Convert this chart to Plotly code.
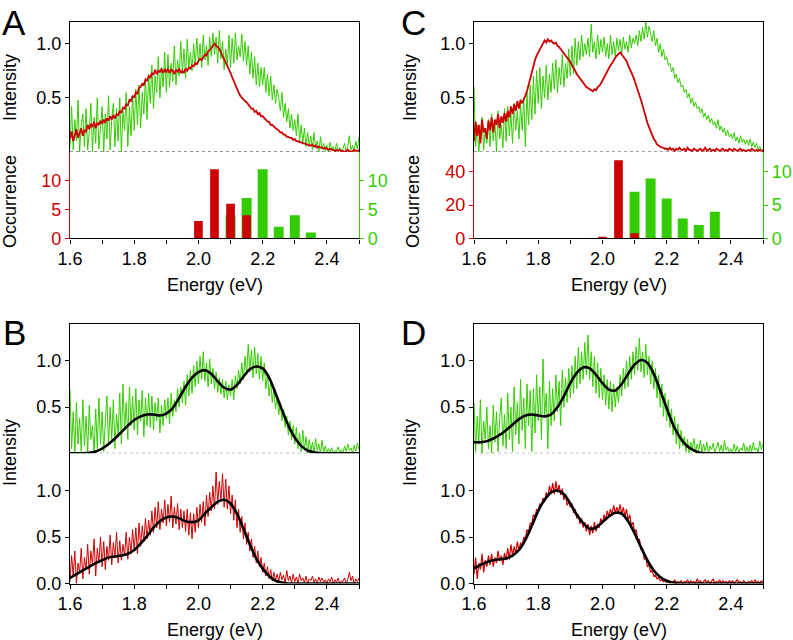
import numpy as np
import plotly.graph_objects as go

# ---------------- data ----------------
# spectra sampled every 0.005 eV from 1.6 to 2.5 eV (181 samples)
energy = np.round(np.linspace(1.6, 2.5, 181), 3)
# fitted curves sampled every 0.02 eV
fit_energy = np.round(np.linspace(1.6, 2.5, 46), 2)

a_red = [
    0.12, 0.19, 0.10, 0.17, 0.21, 0.13, 0.18, 0.22, 0.15, 0.20,
    0.19, 0.25, 0.21, 0.26, 0.23, 0.28, 0.22, 0.27, 0.25, 0.29,
    0.26, 0.30, 0.27, 0.31, 0.29, 0.33, 0.30, 0.34, 0.31, 0.35,
    0.34, 0.38, 0.36, 0.41, 0.40, 0.44, 0.43, 0.48, 0.47, 0.52,
    0.50, 0.55, 0.54, 0.59, 0.60, 0.63, 0.62, 0.67, 0.66, 0.70,
    0.69, 0.73, 0.71, 0.76, 0.72, 0.75, 0.74, 0.77, 0.73, 0.76,
    0.74, 0.77, 0.73, 0.76, 0.75, 0.72, 0.76, 0.74, 0.77, 0.73,
    0.75, 0.73, 0.77, 0.75, 0.78, 0.77, 0.80, 0.79, 0.82, 0.81,
    0.84, 0.86, 0.85, 0.88, 0.90, 0.89, 0.93, 0.94, 0.96, 0.97,
    1.00, 0.98, 0.97, 0.95, 0.92, 0.89, 0.86, 0.83, 0.80, 0.76,
    0.73, 0.69, 0.65, 0.61, 0.57, 0.55, 0.52, 0.50, 0.48, 0.47,
    0.46, 0.44, 0.43, 0.40, 0.40, 0.37, 0.38, 0.35, 0.36, 0.33,
    0.33, 0.31, 0.30, 0.28, 0.28, 0.25, 0.25, 0.23, 0.22, 0.21,
    0.20, 0.18, 0.18, 0.16, 0.16, 0.14, 0.14, 0.13, 0.13, 0.11,
    0.12, 0.10, 0.10, 0.09, 0.09, 0.08, 0.08, 0.07, 0.07, 0.06,
    0.06, 0.07, 0.05, 0.06, 0.04, 0.05, 0.04, 0.04, 0.03, 0.04,
    0.03, 0.02, 0.03, 0.02, 0.02, 0.01, 0.02, 0.01, 0.02, 0.01,
    0.01, 0.00, 0.01, 0.02, 0.01, 0.00, 0.01, 0.02, 0.01, 0.01,
    0.02,
]

a_green = [
    0.05, 0.42, 0.02, 0.30, 0.10, 0.48, 0.00, 0.25, 0.35, 0.05,
    0.40, 0.02, 0.18, 0.45, 0.00, 0.32, 0.08, 0.50, 0.03, 0.28,
    0.42, 0.00, 0.35, 0.12, 0.52, 0.02, 0.30, 0.45, 0.05, 0.40,
    0.10, 0.50, 0.00, 0.38, 0.20, 0.55, 0.05, 0.42, 0.15, 0.52,
    0.20, 0.58, 0.25, 0.62, 0.22, 0.55, 0.35, 0.68, 0.30, 0.72,
    0.45, 0.80, 0.40, 0.70, 0.55, 0.88, 0.50, 0.78, 0.60, 0.92,
    0.55, 0.90, 0.60, 0.82, 0.65, 0.98, 0.62, 0.85, 0.70, 1.02,
    0.72, 0.95, 0.68, 1.04, 0.78, 0.92, 0.75, 1.00, 0.80, 1.05,
    0.82, 1.00, 0.78, 1.08, 0.85, 0.98, 0.80, 1.06, 0.88, 1.10,
    0.90, 1.06, 0.82, 1.12, 0.86, 1.02, 0.76, 0.95, 0.80, 1.08,
    0.78, 1.05, 0.82, 1.10, 0.85, 0.98, 0.88, 1.09, 0.84, 1.02,
    0.80, 0.98, 0.72, 0.92, 0.68, 0.88, 0.62, 0.82, 0.60, 0.78,
    0.62, 0.78, 0.55, 0.72, 0.52, 0.70, 0.48, 0.62, 0.45, 0.58,
    0.50, 0.38, 0.55, 0.32, 0.45, 0.28, 0.40, 0.22, 0.35, 0.20,
    0.30, 0.15, 0.35, 0.10, 0.25, 0.08, 0.22, 0.05, 0.18, 0.06,
    0.15, 0.02, 0.18, 0.04, 0.10, 0.00, 0.14, 0.03, 0.08, 0.01,
    0.06, 0.00, 0.09, 0.02, 0.05, 0.00, 0.08, 0.01, 0.04, 0.00,
    0.03, 0.08, 0.00, 0.05, 0.15, 0.02, 0.06, 0.00, 0.10, 0.03,
    0.14,
]

c_red = [
    0.10, 0.28, 0.15, 0.25, 0.08, 0.30, 0.18, 0.22, 0.12, 0.29,
    0.20, 0.32, 0.18, 0.30, 0.25, 0.35, 0.22, 0.33, 0.27, 0.36,
    0.28, 0.38, 0.32, 0.42, 0.35, 0.44, 0.38, 0.47, 0.40, 0.48,
    0.45, 0.48, 0.52, 0.56, 0.62, 0.68, 0.74, 0.80, 0.85, 0.89,
    0.92, 0.95, 0.98, 1.00, 1.03, 1.01, 1.04, 1.02, 1.03, 1.01,
    1.00, 1.01, 0.98, 0.97, 0.95, 0.94, 0.91, 0.89, 0.87, 0.85,
    0.83, 0.80, 0.78, 0.75, 0.72, 0.70, 0.67, 0.65, 0.63, 0.61,
    0.60, 0.59, 0.58, 0.57, 0.56, 0.58, 0.57, 0.60, 0.61, 0.63,
    0.66, 0.69, 0.71, 0.74, 0.77, 0.80, 0.82, 0.85, 0.87, 0.89,
    0.91, 0.92, 0.90, 0.88, 0.86, 0.84, 0.80, 0.77, 0.73, 0.70,
    0.66, 0.62, 0.58, 0.53, 0.48, 0.43, 0.37, 0.32, 0.27, 0.23,
    0.19, 0.15, 0.12, 0.10, 0.07, 0.06, 0.05, 0.04, 0.04, 0.03,
    0.03, 0.02, 0.04, 0.02, 0.03, 0.01, 0.03, 0.02, 0.04, 0.02,
    0.02, 0.03, 0.01, 0.04, 0.02, 0.02, 0.01, 0.03, 0.02, 0.01,
    0.02, 0.03, 0.01, 0.02, 0.04, 0.01, 0.02, 0.03, 0.01, 0.02,
    0.01, 0.03, 0.02, 0.01, 0.02, 0.03, 0.01, 0.02, 0.01, 0.03,
    0.02, 0.01, 0.03, 0.02, 0.01, 0.02, 0.03, 0.01, 0.02, 0.01,
    0.01, 0.02, 0.01, 0.03, 0.02, 0.01, 0.02, 0.01, 0.02, 0.01,
    0.01,
]

c_green = [
    0.60, 0.05, 0.25, 0.00, 0.18, 0.32, 0.02, 0.22, 0.08, 0.30,
    0.05, 0.35, 0.10, 0.28, 0.00, 0.38, 0.12, 0.25, 0.04, 0.40,
    0.10, 0.42, 0.15, 0.35, 0.08, 0.45, 0.20, 0.38, 0.12, 0.44,
    0.20, 0.50, 0.05, 0.55, 0.25, 0.62, 0.30, 0.70, 0.35, 0.75,
    0.45, 0.78, 0.40, 0.70, 0.50, 0.80, 0.48, 0.72, 0.55, 0.82,
    0.58, 0.85, 0.55, 0.78, 0.62, 0.90, 0.60, 0.82, 0.68, 0.95,
    0.70, 0.98, 0.72, 1.05, 0.80, 1.02, 0.85, 1.08, 0.88, 1.00,
    0.90, 1.05, 0.88, 1.18, 0.92, 1.02, 0.86, 1.08, 0.90, 1.04,
    0.92, 1.06, 0.88, 1.00, 0.86, 1.08, 0.90, 1.02, 0.88, 1.05,
    0.94, 1.04, 0.90, 1.06, 0.95, 1.02, 0.92, 1.08, 0.96, 1.05,
    1.00, 1.08, 0.98, 1.12, 1.02, 1.15, 1.04, 1.20, 1.06, 1.16,
    1.10, 1.02, 1.12, 0.98, 1.05, 0.92, 1.00, 0.88, 0.95, 0.85,
    0.88, 0.80, 0.82, 0.74, 0.78, 0.68, 0.72, 0.64, 0.68, 0.60,
    0.62, 0.55, 0.58, 0.50, 0.54, 0.45, 0.50, 0.42, 0.46, 0.40,
    0.42, 0.36, 0.40, 0.32, 0.36, 0.30, 0.34, 0.27, 0.31, 0.25,
    0.28, 0.22, 0.30, 0.20, 0.24, 0.18, 0.22, 0.15, 0.20, 0.14,
    0.17, 0.12, 0.18, 0.10, 0.14, 0.08, 0.15, 0.09, 0.12, 0.07,
    0.11, 0.06, 0.12, 0.05, 0.09, 0.04, 0.08, 0.02, 0.05, 0.01,
    0.03,
]

b_green = [
    0.69, 0.05, 0.45, 0.00, 0.55, 0.10, 0.38, 0.02, 0.58, 0.08,
    0.40, 0.00, 0.52, 0.15, 0.30, 0.00, 0.48, 0.05, 0.60, 0.10,
    0.45, 0.02, 0.35, 0.62, 0.08, 0.50, 0.15, 0.58, 0.05, 0.42,
    0.20, 0.65, 0.10, 0.75, 0.25, 0.55, 0.15, 0.72, 0.30, 0.62,
    0.25, 0.70, 0.20, 0.58, 0.35, 0.68, 0.18, 0.60, 0.30, 0.65,
    0.28, 0.62, 0.25, 0.55, 0.35, 0.60, 0.22, 0.52, 0.30, 0.58,
    0.38, 0.60, 0.32, 0.65, 0.40, 0.58, 0.45, 0.70, 0.50, 0.72,
    0.55, 0.78, 0.52, 0.85, 0.62, 0.90, 0.65, 0.95, 0.72, 1.00,
    0.75, 1.05, 0.80, 1.10, 0.78, 0.98, 0.72, 1.02, 0.75, 0.92,
    0.70, 0.88, 0.66, 0.82, 0.64, 0.80, 0.60, 0.78, 0.58, 0.74,
    0.62, 0.80, 0.58, 0.84, 0.70, 0.90, 0.75, 0.98, 0.80, 1.05,
    0.85, 1.18, 0.88, 1.12, 0.82, 1.15, 0.86, 1.08, 0.80, 1.05,
    0.78, 0.98, 0.70, 0.85, 0.62, 0.78, 0.55, 0.70, 0.48, 0.62,
    0.42, 0.55, 0.35, 0.48, 0.28, 0.40, 0.20, 0.35, 0.15, 0.30,
    0.10, 0.28, 0.05, 0.22, 0.02, 0.25, 0.04, 0.18, 0.00, 0.15,
    0.02, 0.12, 0.00, 0.16, 0.03, 0.10, 0.00, 0.14, 0.01, 0.08,
    0.00, 0.05, 0.01, 0.06, 0.00, 0.03, 0.02, 0.07, 0.00, 0.04,
    0.00, 0.08, 0.02, 0.10, 0.03, 0.06, 0.00, 0.09, 0.02, 0.11,
    0.04,
]

b_red = [
    0.02, 0.30, 0.08, 0.35, 0.00, 0.22, 0.12, 0.38, 0.05, 0.28,
    0.15, 0.42, 0.10, 0.35, 0.20, 0.48, 0.08, 0.38, 0.22, 0.50,
    0.18, 0.45, 0.15, 0.40, 0.25, 0.52, 0.20, 0.44, 0.28, 0.55,
    0.22, 0.46, 0.25, 0.42, 0.30, 0.55, 0.26, 0.50, 0.32, 0.58,
    0.35, 0.60, 0.32, 0.65, 0.40, 0.62, 0.45, 0.70, 0.48, 0.68,
    0.52, 0.78, 0.55, 0.82, 0.60, 0.88, 0.58, 0.80, 0.65, 0.90,
    0.62, 0.85, 0.66, 0.94, 0.60, 0.82, 0.64, 0.86, 0.58, 0.80,
    0.60, 0.78, 0.56, 0.80, 0.52, 0.76, 0.48, 0.75, 0.55, 0.82,
    0.60, 0.85, 0.66, 0.88, 0.62, 0.95, 0.72, 0.98, 0.78, 1.05,
    0.80, 1.20, 0.85, 1.10, 0.88, 1.18, 0.82, 1.12, 0.80, 1.05,
    0.75, 0.95, 0.68, 0.90, 0.60, 0.80, 0.55, 0.72, 0.48, 0.65,
    0.42, 0.55, 0.35, 0.48, 0.28, 0.40, 0.22, 0.35, 0.18, 0.28,
    0.12, 0.22, 0.08, 0.18, 0.05, 0.15, 0.03, 0.12, 0.04, 0.10,
    0.02, 0.12, 0.04, 0.09, 0.00, 0.14, 0.03, 0.08, 0.01, 0.10,
    0.02, 0.07, 0.00, 0.10, 0.03, 0.06, 0.01, 0.08, 0.00, 0.05,
    0.03, 0.08, 0.01, 0.05, 0.00, 0.07, 0.02, 0.06, 0.01, 0.04,
    0.00, 0.05, 0.02, 0.07, 0.00, 0.04, 0.01, 0.06, 0.00, 0.03,
    0.02, 0.06, 0.00, 0.04, 0.12, 0.03, 0.08, 0.00, 0.05, 0.02,
    0.06,
]

d_green = [
    0.55, 0.02, 0.40, 0.10, 0.58, 0.00, 0.35, 0.15, 0.50, 0.05,
    0.30, 0.00, 0.52, 0.12, 0.45, 0.02, 0.38, 0.60, 0.08, 0.42,
    0.05, 0.65, 0.15, 0.50, 0.02, 0.72, 0.20, 0.55, 0.10, 0.80,
    0.25, 0.60, 0.05, 0.75, 0.30, 0.68, 0.02, 0.70, 0.22, 0.85,
    0.35, 0.72, 0.15, 1.02, 0.40, 0.65, 0.05, 0.78, 0.30, 0.70,
    0.35, 0.85, 0.45, 0.78, 0.30, 0.90, 0.50, 0.82, 0.55, 0.92,
    0.60, 0.95, 0.65, 1.05, 0.70, 1.15, 0.75, 1.10, 0.80, 1.20,
    0.85, 1.28, 0.80, 1.10, 0.72, 1.05, 0.65, 0.98, 0.60, 0.92,
    0.58, 0.85, 0.52, 0.80, 0.48, 0.78, 0.45, 0.75, 0.50, 0.72,
    0.55, 0.85, 0.62, 0.92, 0.70, 1.00, 0.72, 1.05, 0.80, 1.10,
    0.85, 1.15, 0.90, 1.25, 0.88, 1.10, 0.82, 1.18, 0.85, 1.05,
    0.75, 1.00, 0.70, 0.92, 0.60, 0.85, 0.50, 0.75, 0.40, 0.65,
    0.35, 0.58, 0.28, 0.48, 0.20, 0.40, 0.10, 0.32, 0.05, 0.25,
    0.08, 0.18, 0.02, 0.15, 0.00, 0.12, 0.05, 0.16, 0.01, 0.10,
    0.03, 0.14, 0.00, 0.10, 0.02, 0.12, 0.00, 0.08, 0.04, 0.11,
    0.00, 0.06, 0.12, 0.02, 0.09, 0.00, 0.14, 0.03, 0.07, 0.01,
    0.05, 0.00, 0.10, 0.02, 0.08, 0.00, 0.06, 0.03, 0.11, 0.01,
    0.07, 0.00, 0.09, 0.02, 0.12, 0.03, 0.06, 0.01, 0.13, 0.04,
    0.10,
]

d_red = [
    0.10, 0.28, 0.05, 0.22, 0.15, 0.32, 0.12, 0.25, 0.18, 0.30,
    0.20, 0.32, 0.18, 0.28, 0.22, 0.35, 0.24, 0.30, 0.20, 0.33,
    0.25, 0.38, 0.26, 0.42, 0.30, 0.40, 0.32, 0.45, 0.35, 0.44,
    0.40, 0.50, 0.48, 0.58, 0.55, 0.65, 0.64, 0.74, 0.72, 0.80,
    0.78, 0.86, 0.84, 0.92, 0.88, 0.98, 0.93, 1.05, 0.97, 1.08,
    0.96, 1.10, 0.98, 1.06, 0.95, 1.02, 0.90, 0.96, 0.84, 0.88,
    0.82, 0.86, 0.76, 0.80, 0.70, 0.74, 0.64, 0.70, 0.60, 0.66,
    0.56, 0.64, 0.52, 0.62, 0.54, 0.66, 0.56, 0.64, 0.60, 0.70,
    0.64, 0.74, 0.68, 0.78, 0.72, 0.80, 0.74, 0.84, 0.76, 0.82,
    0.76, 0.85, 0.74, 0.82, 0.72, 0.80, 0.68, 0.74, 0.62, 0.66,
    0.55, 0.58, 0.46, 0.48, 0.36, 0.38, 0.26, 0.28, 0.18, 0.20,
    0.12, 0.14, 0.08, 0.09, 0.05, 0.06, 0.03, 0.04, 0.02, 0.03,
    0.01, 0.03, 0.00, 0.02, 0.01, 0.04, 0.00, 0.02, 0.01, 0.03,
    0.00, 0.02, 0.01, 0.04, 0.00, 0.03, 0.01, 0.02, 0.00, 0.05,
    0.01, 0.03, 0.00, 0.02, 0.04, 0.01, 0.03, 0.00, 0.02, 0.05,
    0.00, 0.02, 0.01, 0.04, 0.00, 0.03, 0.01, 0.02, 0.00, 0.03,
    0.01, 0.03, 0.00, 0.02, 0.04, 0.01, 0.02, 0.00, 0.03, 0.01,
    0.00, 0.02, 0.01, 0.03, 0.00, 0.04, 0.01, 0.02, 0.00, 0.03,
    0.02,
]

b_green_fit = [
    0.00, 0.00, 0.00, 0.005, 0.02, 0.05, 0.10, 0.16, 0.23, 0.30,
    0.36, 0.40, 0.42, 0.42, 0.41, 0.43, 0.49, 0.60, 0.72, 0.82,
    0.88, 0.90, 0.86, 0.78, 0.71, 0.69, 0.74, 0.83, 0.91, 0.94,
    0.92, 0.82, 0.65, 0.47, 0.30, 0.17, 0.08, 0.03, 0.01, 0.00,
    0.00, 0.00, 0.00, 0.00, 0.00, 0.00,
]
b_red_fit = [
    0.06, 0.10, 0.14, 0.18, 0.22, 0.25, 0.28, 0.29, 0.30, 0.32,
    0.36, 0.43, 0.51, 0.60, 0.67, 0.71, 0.72, 0.70, 0.67, 0.66,
    0.68, 0.75, 0.82, 0.88, 0.90, 0.86, 0.75, 0.59, 0.42, 0.27,
    0.16, 0.08, 0.03, 0.01, 0.00, 0.00, 0.00, 0.00, 0.00, 0.00,
    0.00, 0.00, 0.00, 0.00, 0.00, 0.00,
]
d_green_fit = [
    0.12, 0.12, 0.13, 0.16, 0.20, 0.25, 0.31, 0.37, 0.41, 0.42,
    0.41, 0.40, 0.42, 0.50, 0.62, 0.76, 0.87, 0.93, 0.92, 0.85,
    0.76, 0.69, 0.68, 0.75, 0.86, 0.96, 1.01, 0.98, 0.86, 0.68,
    0.49, 0.31, 0.18, 0.09, 0.04, 0.01, 0.00, 0.00, 0.00, 0.00,
    0.00, 0.00, 0.00, 0.00, 0.00, 0.00,
]
d_red_fit = [
    0.16, 0.20, 0.23, 0.25, 0.26, 0.27, 0.30, 0.36, 0.47, 0.62,
    0.78, 0.90, 0.98, 1.00, 0.96, 0.86, 0.74, 0.65, 0.59, 0.60,
    0.66, 0.72, 0.76, 0.75, 0.67, 0.54, 0.39, 0.25, 0.14, 0.07,
    0.03, 0.01, 0.00, 0.00, 0.00, 0.00, 0.00, 0.00, 0.00, 0.00,
    0.00, 0.00, 0.00, 0.00, 0.00, 0.00,
]

# occurrence histograms
a_hist_red_e = [2.00, 2.05, 2.10, 2.15]
a_hist_red_n = [3, 12, 6, 4]
a_hist_green_e = [2.10, 2.15, 2.20, 2.25, 2.30, 2.35]
a_hist_green_n = [4, 7, 12, 2, 4, 1]
c_hist_red_e = [2.00, 2.05, 2.10]
c_hist_red_n = [1, 47, 3]
c_hist_green_e = [2.10, 2.15, 2.20, 2.25, 2.30, 2.35]
c_hist_green_n = [7, 9, 6, 3, 2, 4]

x_tickvals = [1.6, 1.7, 1.8, 1.9, 2.0, 2.1, 2.2, 2.3, 2.4, 2.5]
x_ticktext = ["1.6", "", "1.8", "", "2.0", "", "2.2", "", "2.4", ""]

# ---------------- styling ----------------
RED = "#cc0000"
GREEN = "#33cc00"
FONT = "Liberation Sans, Arial, sans-serif"
FS = 18
W, H = 793, 640


def fx(p):
    return p / W


def fy(p):
    return 1 - p / H


LEFT = (70, 359)
RIGHT = (474, 763)

fig = go.Figure()


def line(x, y, color, width, xa, ya):
    fig.add_trace(go.Scatter(x=x, y=y, mode="lines", line=dict(color=color, width=width),
                             xaxis=xa, yaxis=ya, showlegend=False, hoverinfo="skip"))


def fitline(y, xa, ya):
    fig.add_trace(go.Scatter(x=fit_energy, y=y, mode="lines",
                             line=dict(color="black", width=2.6, shape="spline", smoothing=0.8),
                             xaxis=xa, yaxis=ya, showlegend=False, hoverinfo="skip"))


def bars(x, y, color, width, xa, ya):
    fig.add_trace(go.Bar(x=x, y=y, width=width, marker=dict(color=color, line=dict(width=0)),
                         xaxis=xa, yaxis=ya, showlegend=False, hoverinfo="skip"))


# Panel A
line(energy, a_green, GREEN, 1, "x", "y")
line(energy, a_red, RED, 1.8, "x", "y")
bars(a_hist_green_e, a_hist_green_n, GREEN, 0.031, "x2", "y2")
bars(a_hist_red_e, a_hist_red_n, RED, 0.027, "x2", "y3")
# Panel C
line(energy, c_green, GREEN, 1, "x3", "y4")
line(energy, c_red, RED, 1.8, "x3", "y4")
bars(c_hist_green_e, c_hist_green_n, GREEN, 0.031, "x4", "y5")
bars(c_hist_red_e, c_hist_red_n, RED, 0.027, "x4", "y6")
# Panel B
line(energy, b_green, GREEN, 1, "x5", "y7")
fitline(b_green_fit, "x5", "y7")
line(energy, b_red, RED, 1, "x6", "y8")
fitline(b_red_fit, "x6", "y8")
# Panel D
line(energy, d_green, GREEN, 1, "x7", "y9")
fitline(d_green_fit, "x7", "y9")
line(energy, d_red, RED, 1.2, "x8", "y10")
fitline(d_red_fit, "x8", "y10")

LW = 1.4
tickfont = dict(family=FONT, size=FS, color="black")


def top_x(dom, anchor):
    return dict(domain=[fx(dom[0]), fx(dom[1])], range=[1.6, 2.5], anchor=anchor, side="top",
                showline=True, linecolor="black", linewidth=LW, ticks="", showticklabels=False,
                showgrid=False, zeroline=False, automargin=False)


def bottom_x(dom, anchor):
    return dict(domain=[fx(dom[0]), fx(dom[1])], range=[1.6, 2.5], anchor=anchor,
                showline=True, linecolor="black", linewidth=LW, ticks="outside", ticklen=4,
                tickwidth=1.2, tickcolor="black", tickmode="array", tickvals=x_tickvals,
                ticktext=x_ticktext, tickfont=tickfont, showgrid=False, zeroline=False,
                automargin=False)


def inten_y(y0, y1, anchor, tv, tt, rng):
    return dict(domain=[fy(y1), fy(y0)], range=rng, anchor=anchor, showline=True, mirror=True,
                linecolor="black", linewidth=LW, ticks="outside", ticklen=4, tickwidth=1.2,
                tickcolor="black", tickmode="array", tickvals=tv, ticktext=tt, tickfont=tickfont,
                showgrid=False, zeroline=False, automargin=False)


def hist_y(y0, y1, anchor, side, color, rng, tv, overlay=None):
    d = dict(domain=[fy(y1), fy(y0)], range=rng, anchor=anchor, side=side, showline=True,
             linecolor=color, linewidth=LW, ticks="outside", ticklen=4, tickwidth=1.2,
             tickcolor=color, tickmode="array", tickvals=tv, ticktext=[str(v) for v in tv],
             tickfont=dict(family=FONT, size=FS, color=color), showgrid=False, zeroline=False,
             automargin=False)
    if overlay:
        d["overlaying"] = overlay
    return d


A_TOP, A_MID, A_BOT = 22, 152, 238.3
B_TOP, B_MID, B_BOT = 324, 453.3, 583.5

layout = dict(
    width=W, height=H, autosize=False,
    margin=dict(l=0, r=0, t=0, b=0, pad=0, autoexpand=False),
    paper_bgcolor="white", plot_bgcolor="rgba(0,0,0,0)", barmode="overlay",
    font=dict(family=FONT, size=FS, color="black"),
    # A
    xaxis=top_x(LEFT, "y"),
    yaxis=inten_y(A_TOP, A_MID, "x", [0.5, 1.0], ["0.5", "1.0"], [0, 1.2]),
    xaxis2=bottom_x(LEFT, "y2"),
    yaxis2=hist_y(A_MID, A_BOT, "x2", "right", GREEN, [0, 15], [0, 5, 10]),
    yaxis3=hist_y(A_MID, A_BOT, "x2", "left", RED, [0, 15], [0, 5, 10], overlay="y2"),
    # C
    xaxis3=top_x(RIGHT, "y4"),
    yaxis4=inten_y(A_TOP, A_MID, "x3", [0.5, 1.0], ["0.5", "1.0"], [0, 1.2]),
    xaxis4=bottom_x(RIGHT, "y5"),
    yaxis5=hist_y(A_MID, A_BOT, "x4", "right", GREEN, [0, 13], [0, 5, 10]),
    yaxis6=hist_y(A_MID, A_BOT, "x4", "left", RED, [0, 52], [0, 20, 40], overlay="y5"),
    # B
    xaxis5=top_x(LEFT, "y7"),
    yaxis7=inten_y(B_TOP, B_MID, "x5", [0.5, 1.0], ["0.5", "1.0"], [0, 1.4]),
    xaxis6=bottom_x(LEFT, "y8"),
    yaxis8=inten_y(B_MID, B_BOT, "x6", [0, 0.5, 1.0], ["0.0", "0.5", "1.0"], [0, 1.4]),
    # D
    xaxis7=top_x(RIGHT, "y9"),
    yaxis9=inten_y(B_TOP, B_MID, "x7", [0.5, 1.0], ["0.5", "1.0"], [0, 1.4]),
    xaxis8=bottom_x(RIGHT, "y10"),
    yaxis10=inten_y(B_MID, B_BOT, "x8", [0, 0.5, 1.0], ["0.0", "0.5", "1.0"], [0, 1.4]),
)
fig.update_layout(**layout)

# dashed baselines
for xr, yr, col in [("x", "y", "#222222"), ("x3", "y4", "#444444"),
                    ("x5", "y7", "#888888"), ("x7", "y9", "#888888")]:
    fig.add_shape(type="line", xref=xr, yref=yr, x0=1.6, x1=2.5, y0=0, y1=0, layer="below",
                  line=dict(color=col, width=1.2, dash="3px,3px"))


def ann(text, x, y, size=FS, angle=0):
    fig.add_annotation(text=text, x=fx(x), y=fy(y), xref="paper", yref="paper",
                       xanchor="center", yanchor="middle", showarrow=False, textangle=angle,
                       font=dict(family=FONT, size=size, color="black"))


ann("A", 14, 23, 35)
ann("C", 413, 23, 35)
ann("B", 14, 332, 35)
ann("D", 413, 332, 35)
ann("Intensity", 10, 88, angle=-90)
ann("Occurrence", 10, 202, angle=-90)
ann("Intensity", 410, 88, angle=-90)
ann("Occurrence", 413, 202, angle=-90)
ann("Intensity", 10, 453, angle=-90)
ann("Intensity", 410, 453, angle=-90)
ann("Energy (eV)", 214.5, 285)
ann("Energy (eV)", 618.5, 285)
ann("Energy (eV)", 214.5, 630)
ann("Energy (eV)", 618.5, 630)

fig.write_html(
    "out.html",
    config={"displayModeBar": False},
    post_script="document.body.style.margin='0';document.body.style.overflow='hidden';",
)
